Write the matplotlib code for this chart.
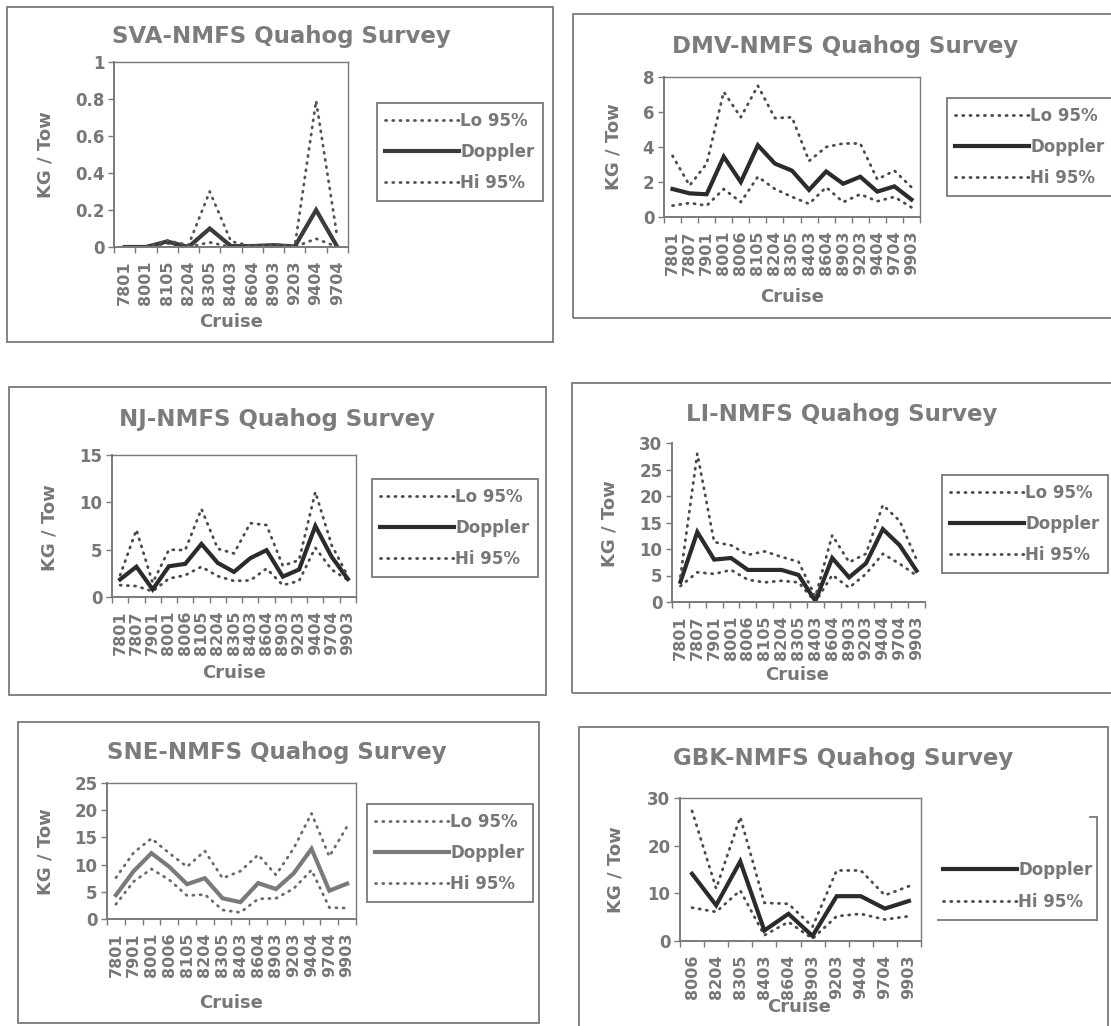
import numpy as np
import matplotlib
matplotlib.use("Agg")
import matplotlib.pyplot as plt
from matplotlib.patches import Rectangle
from matplotlib.lines import Line2D
from matplotlib.ticker import FuncFormatter

# ---- data (KG / Tow) ----
sva_cruises = ["7801", "8001", "8105", "8204", "8305", "8403", "8604", "8903", "9203", "9404", "9704"]
sva_doppler = [0.0, 0.0, 0.03, 0.0, 0.10, 0.005, 0.005, 0.01, 0.003, 0.20, 0.0]
sva_lo = [0.0, 0.0, 0.02, 0.0, 0.025, 0.0, 0.0, 0.005, 0.0, 0.045, 0.0]
sva_hi = [0.0, 0.0, 0.035, 0.01, 0.30, 0.03, 0.005, 0.015, 0.005, 0.79, 0.05]
sva_yticks = [0, 0.2, 0.4, 0.6, 0.8, 1]

dmv_cruises = ["7801", "7807", "7901", "8001", "8006", "8105", "8204", "8305",
               "8403", "8604", "8903", "9203", "9404", "9704", "9903"]
dmv_doppler = [1.6, 1.35, 1.3, 3.45, 2.0, 4.1, 3.05, 2.65, 1.55, 2.6, 1.9, 2.3, 1.45, 1.75, 1.0]
dmv_lo = [0.65, 0.8, 0.65, 1.6, 0.85, 2.3, 1.6, 1.15, 0.75, 1.7, 0.85, 1.3, 0.9, 1.15, 0.55]
dmv_hi = [3.5, 1.8, 3.05, 7.15, 5.7, 7.5, 5.65, 5.7, 3.2, 4.0, 4.2, 4.2, 2.15, 2.65, 1.7]
dmv_yticks = [0, 2, 4, 6, 8]

nj_cruises = dmv_cruises
nj_doppler = [1.85, 3.2, 0.8, 3.25, 3.5, 5.6, 3.6, 2.65, 4.1, 4.95, 2.15, 2.9, 7.5, 4.25, 1.9]
nj_lo = [1.25, 1.15, 0.6, 1.95, 2.3, 3.2, 2.2, 1.7, 1.75, 3.0, 1.25, 1.7, 5.2, 2.9, 1.8]
nj_hi = [2.3, 7.1, 1.5, 5.0, 4.95, 9.3, 5.1, 4.6, 7.8, 7.6, 3.3, 3.9, 11.1, 5.5, 2.2]
nj_yticks = [0, 5, 10, 15]

li_cruises = dmv_cruises
li_doppler = [3.8, 13.2, 8.0, 8.3, 6.05, 6.05, 6.05, 5.1, 0.2, 8.3, 4.65, 7.3, 13.75, 10.7, 5.9]
li_lo = [3.0, 5.6, 5.3, 6.05, 4.2, 3.7, 4.0, 3.7, 0.0, 5.1, 2.7, 5.3, 9.1, 7.2, 5.0]
li_hi = [4.8, 28.0, 11.3, 10.7, 8.9, 9.55, 8.5, 7.6, 1.0, 12.6, 7.5, 9.1, 18.3, 15.3, 8.0]
li_yticks = [0, 5, 10, 15, 20, 25, 30]

sne_cruises = ["7801", "7901", "8001", "8006", "8105", "8204", "8305", "8403",
               "8604", "8903", "9203", "9404", "9704", "9903"]
sne_doppler = [4.4, 8.8, 12.1, 9.6, 6.4, 7.5, 3.8, 3.1, 6.6, 5.5, 8.4, 12.9, 5.2, 6.5]
sne_lo = [2.7, 6.9, 9.2, 7.2, 4.3, 4.5, 1.65, 1.2, 3.7, 3.8, 5.6, 9.0, 2.1, 2.0]
sne_hi = [7.6, 12.2, 14.8, 12.1, 9.6, 12.5, 7.5, 8.8, 11.8, 8.1, 13.0, 19.4, 11.5, 17.0]
sne_yticks = [0, 5, 10, 15, 20, 25]

gbk_cruises = ["8006", "8204", "8305", "8403", "8604", "8903", "9203", "9404", "9704", "9903"]
gbk_doppler = [14.1, 7.5, 16.7, 2.2, 5.7, 1.05, 9.4, 9.4, 6.8, 8.4]
gbk_lo = [7.0, 6.1, 10.6, 1.2, 4.0, 0.5, 5.2, 5.7, 4.5, 5.2]
gbk_hi = [27.3, 11.0, 26.0, 8.0, 7.8, 3.0, 14.8, 14.8, 9.6, 11.5]
gbk_yticks = [0, 10, 20, 30]

W, H = 1111, 1026
TXT = "#777777"
EDGE = "#7a7a7a"

plt.rcParams["font.family"] = ["DejaVu Sans"]
plt.rcParams["font.weight"] = "bold"


def fx(x):
    return x / W


def fy(y):
    return 1 - y / H


# layout in pixels: box (l, t, r, b), axes (l, t, r, b), legend centre, title/ylabel/xlabel spots
# boxes that run off the scanned page get coordinates past the edge
panels = [
    dict(name="SVA", cruises=sva_cruises, dop=sva_doppler, lo=sva_lo, hi=sva_hi, yticks=sva_yticks,
         box=(7, 7, 553, 342), axes=(114, 62, 348, 247), leg=(460, 152), title=(281, 37),
         ylab=(46, 155), xlab=(231, 322), dcol="#3c3c3c", pcol="#555555", frame=True),
    dict(name="DMV", cruises=dmv_cruises, dop=dmv_doppler, lo=dmv_lo, hi=dmv_hi, yticks=dmv_yticks,
         box=(573, 14, 1120, 318), axes=(664, 77, 920, 217), leg=(1030, 147), title=(845, 47),
         ylab=(613, 147), xlab=(792, 297), dcol="#2b2b2b", pcol="#4a4a4a", frame=True),
    dict(name="NJ", cruises=nj_cruises, dop=nj_doppler, lo=nj_lo, hi=nj_hi, yticks=nj_yticks,
         box=(9, 387, 546, 695), axes=(112, 455, 356, 597), leg=(455, 528), title=(277, 419),
         ylab=(50, 528), xlab=(234, 673), dcol="#2b2b2b", pcol="#4a4a4a", frame=True),
    dict(name="LI", cruises=li_cruises, dop=li_doppler, lo=li_lo, hi=li_hi, yticks=li_yticks,
         box=(572, 383, 1120, 693), axes=(672, 443, 925, 602), leg=(1025, 524), title=(842, 415),
         ylab=(609, 524), xlab=(797, 675), dcol="#2b2b2b", pcol="#4a4a4a", frame=False),
    dict(name="SNE", cruises=sne_cruises, dop=sne_doppler, lo=sne_lo, hi=sne_hi, yticks=sne_yticks,
         box=(18, 722, 539, 1023), axes=(107, 783, 356, 919), leg=(450, 853), title=(277, 753),
         ylab=(45, 852), xlab=(231, 1003), dcol="#7a7a7a", pcol="#6a6a6a", frame=True),
    dict(name="GBK", cruises=gbk_cruises, dop=gbk_doppler, lo=gbk_lo, hi=gbk_hi, yticks=gbk_yticks,
         box=(579, 727, 1108, 1035), axes=(680, 798, 921, 941), leg=(1018, 886), title=(843, 759),
         ylab=(616, 870), xlab=(799, 1007), dcol="#2b2b2b", pcol="#4a4a4a", frame=True),
]

fig = plt.figure(figsize=(W / 100, H / 100), dpi=100)

for p in panels:
    # outer panel border
    bl, bt, br, bb = p["box"]
    fig.patches.append(Rectangle((fx(bl), fy(bb)), (br - bl) / W, (bb - bt) / H, fill=False,
                                 ec=EDGE, lw=1.3, transform=fig.transFigure))

    l, t, r, b = p["axes"]
    ax = fig.add_axes([fx(l), fy(b), (r - l) / W, (b - t) / H])
    n = len(p["cruises"])
    x = np.arange(n)

    dots = dict(color=p["pcol"], lw=2.0, linestyle=(0, (0.4, 2.2)), dash_capstyle="round")
    lo_label = "Lo 95%" if p["name"] != "GBK" else "_nolegend_"
    h_lo, = ax.plot(x, p["lo"], label=lo_label, **dots)
    h_d, = ax.plot(x, p["dop"], color=p["dcol"], lw=3.0, solid_joinstyle="miter", label="Doppler")
    h_hi, = ax.plot(x, p["hi"], label="Hi 95%", **dots)

    ax.set_xlim(-0.5, n - 0.5)
    ax.set_ylim(p["yticks"][0], p["yticks"][-1])
    ax.set_yticks(p["yticks"])
    ax.yaxis.set_major_formatter(FuncFormatter(lambda v, _: f"{v:g}"))
    ax.set_xticks(x)
    ax.set_xticklabels(p["cruises"], rotation=90)
    ax.set_xticks(np.arange(n + 1) - 0.5, minor=True)
    ax.tick_params(axis="x", which="major", length=0, pad=10, labelsize=11.5, labelcolor=TXT)
    ax.tick_params(axis="x", which="minor", length=4, width=1, color=EDGE, direction="out")
    ax.tick_params(axis="y", length=4, width=1, color=EDGE, pad=3, labelsize=12, labelcolor=TXT)

    for side in ["left", "bottom"]:
        ax.spines[side].set_color(EDGE)
        ax.spines[side].set_linewidth(1.4)
    for side in ["top", "right"]:
        ax.spines[side].set_visible(p["frame"])
        ax.spines[side].set_color(EDGE)
        ax.spines[side].set_linewidth(1.0)

    # legend
    if p["name"] == "GBK":
        handles = [h_d, h_hi]
    else:
        handles = [h_lo, h_d, h_hi]
    leg = ax.legend(handles=handles, loc="center", bbox_to_anchor=(fx(p["leg"][0]), fy(p["leg"][1])),
                    bbox_transform=fig.transFigure, fontsize=12, handlelength=4.4, handletextpad=0.1,
                    labelspacing=0.8, borderpad=0.5, fancybox=False, framealpha=1,
                    edgecolor=EDGE, frameon=(p["name"] != "GBK"))
    leg.get_frame().set_linewidth(1.3)
    for t_ in leg.get_texts():
        t_.set_color(TXT)

    fig.text(fx(p["title"][0]), fy(p["title"][1]), p["name"] + "-NMFS Quahog Survey",
             ha="center", va="center", fontsize=16.5, color="#7c7c7c")
    fig.text(fx(p["ylab"][0]), fy(p["ylab"][1]), "KG / Tow", rotation=90,
             ha="center", va="center", fontsize=13, color=TXT)
    fig.text(fx(p["xlab"][0]), fy(p["xlab"][1]), "Cruise",
             ha="center", va="center", fontsize=13, color=TXT)

# the GBK legend frame only survives on its right and bottom side in the scan
fig.add_artist(Line2D([fx(1097), fx(1097)], [fy(817), fy(920)], color=EDGE, lw=1.3))
fig.add_artist(Line2D([fx(938), fx(1097)], [fy(920), fy(920)], color=EDGE, lw=1.3))
fig.add_artist(Line2D([fx(1090), fx(1097)], [fy(817), fy(817)], color=EDGE, lw=1.3))

fig.savefig("out.png", dpi=100, facecolor="white")
